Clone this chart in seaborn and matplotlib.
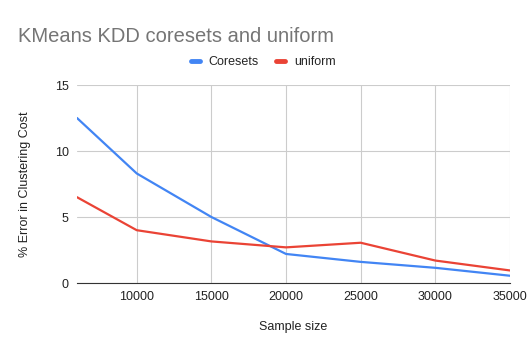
import pandas as pd
import seaborn as sns
import matplotlib.pyplot as plt

sample_size = [6000, 10000, 15000, 20000, 25000, 30000, 35000]
coresets = [12.5, 8.3, 5.0, 2.2, 1.6, 1.15, 0.55]
uniform = [6.5, 4.0, 3.15, 2.7, 3.05, 1.7, 0.95]

df = pd.DataFrame({
    'Sample size': sample_size * 2,
    'err': coresets + uniform,
    'series': ['Coresets'] * len(coresets) + ['uniform'] * len(uniform),
})

sns.set_style('white')
plt.rcParams['font.family'] = ['Liberation Sans', 'DejaVu Sans']

fig = plt.figure(figsize=(5.28, 3.53), dpi=100)
ax = fig.add_axes([77 / 528, 1 - 283 / 353, (510 - 77) / 528, (283 - 85) / 353])

sns.lineplot(
    data=df,
    x='Sample size',
    y='err',
    hue='series',
    palette={'Coresets': '#4285f4', 'uniform': '#ea4335'},
    linewidth=1.6,
    ax=ax,
)

ax.set_xlim(6000, 35000)
ax.set_ylim(0, 15)
ax.set_xticks([10000, 15000, 20000, 25000, 30000, 35000])
ax.set_yticks([0, 5, 10, 15])
ax.grid(True, color='#cccccc', linewidth=0.8)
ax.set_axisbelow(True)
for s in ['top', 'right', 'left']:
    ax.spines[s].set_visible(False)
ax.spines['bottom'].set_color('#333333')
ax.tick_params(axis='both', length=0, labelsize=9, colors='#222222', pad=6)
ax.set_xlabel('Sample size', fontsize=9, color='#222222', labelpad=13)
ax.set_ylabel('% Error in Clustering Cost', fontsize=9, color='#222222', labelpad=17)

ax.legend(
    loc='center', bbox_to_anchor=(0.43, 1.115), ncol=2, frameon=False,
    fontsize=9, handlelength=0.7, handletextpad=0.7, columnspacing=1.4,
)
leg = ax.get_legend()
for line in leg.get_lines():
    line.set_linewidth(3.5)

fig.text(18 / 528, 1 - 37 / 353, 'KMeans KDD coresets and uniform', fontsize=14.5,
         color='#757575', va='center', ha='left')

fig.savefig('out.png', dpi=100, facecolor='white')
